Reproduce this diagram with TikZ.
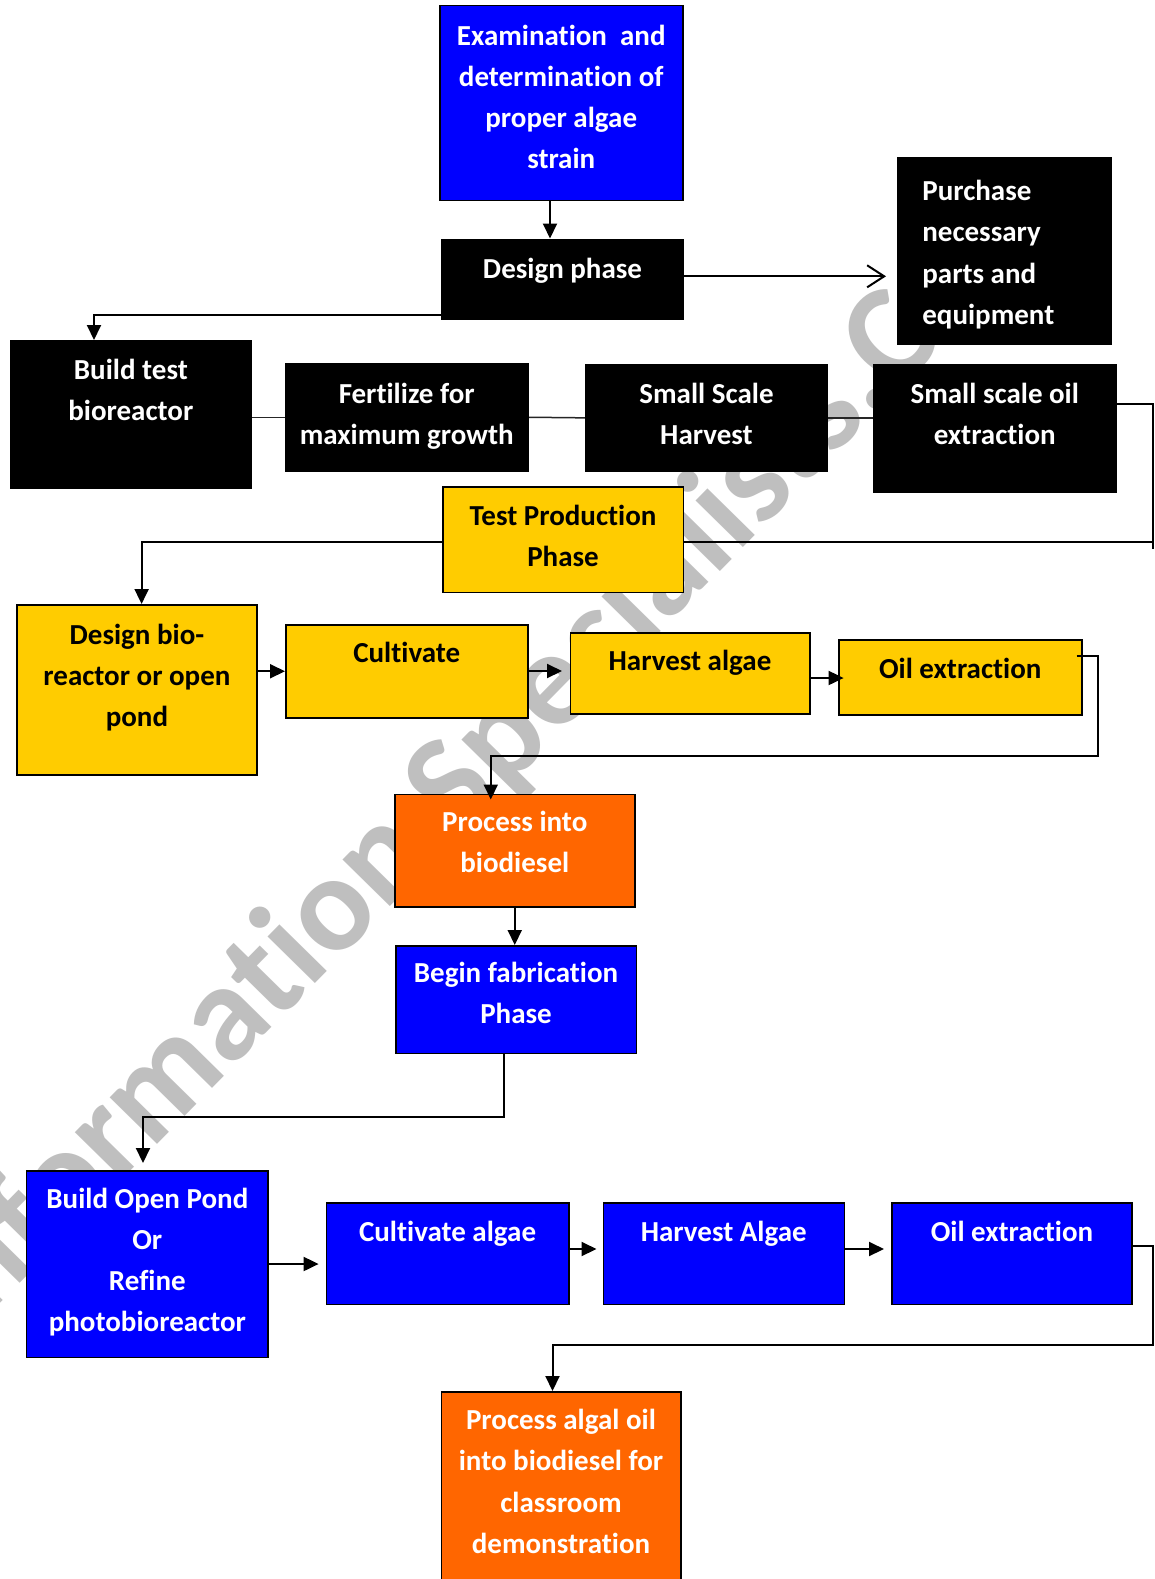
\documentclass[tikz,border=0pt]{standalone}
\usepackage{fontspec}
\setmainfont{Carlito}[Ligatures=NoCommon]
\usetikzlibrary{arrows.meta,calc}
\definecolor{myblue}{RGB}{0,0,255}
\definecolor{myyellow}{RGB}{255,204,0}
\definecolor{myorange}{RGB}{255,102,0}
\definecolor{wmgray}{RGB}{191,191,191}
\pgfdeclarelayer{bg}
\pgfsetlayers{bg,main}
\newcommand{\bt}[4]{\parbox[c][#2pt][t]{#1pt}{\centering\rule{0pt}{#3pt}#4\par}}
\newcommand{\btl}[5]{\parbox[c][#2pt][t]{#1pt}{\raggedright\leftskip=#4pt\relax\rule{0pt}{#3pt}#5\par}}
\begin{document}
\begin{tikzpicture}[x=1pt,y=-1pt,
  box/.style={draw=black,line width=1.5pt,inner sep=0pt,anchor=north west,font=\bfseries\fontsize{29}{41.2}\selectfont},
  blackbox/.style={box,fill=black,text=white},
  bluebox/.style={box,fill=myblue,text=white},
  yellowbox/.style={box,fill=myyellow,text=black},
  orangebox/.style={box,fill=myorange,text=white},
  arr/.style={line width=2pt,-{Triangle[length=15pt,width=14pt]}},
  openarr/.style={line width=2pt,-{Straight Barb[length=17pt,width=22pt]}},
  link/.style={line width=1.5pt,black!85},
  wline/.style={line width=2pt},
  wm/.style={text=wmgray,inner sep=0pt,font=\bfseries\fontsize{137}{137}\selectfont}]
\useasboundingbox (0,0) rectangle (1155,1579);

% boxes
\node[bluebox] (exam) at (439,5) {\bt{243}{194.5}{39.4}{Examination~ and\\determination of\\proper algae\\strain}};
\node[blackbox] (design) at (441,238.5) {\bt{241.5}{80.3}{39.5}{Design phase}};
\node[blackbox] (purchase) at (897,157) {\btl{213.5}{186}{43}{24.6}{Purchase\\necessary\\parts and\\equipment}};
\node[blackbox] (build) at (9.6,340) {\bt{241}{147}{39}{Build test\\bioreactor}};
\node[blackbox] (fert) at (285,363) {\bt{242}{107}{39.5}{Fertilize for\\maximum growth}};
\node[blackbox] (ssh) at (585,363.6) {\bt{241.5}{107}{39.4}{Small Scale\\Harvest}};
\node[blackbox] (sso) at (873,363.6) {\bt{242}{127.4}{39.4}{Small scale oil\\extraction}};
\node[yellowbox] (testp) at (442,486) {\bt{240.5}{105.5}{38.3}{Test Production\\Phase}};
\node[yellowbox] (dbio) at (16,604) {\bt{240.4}{170}{39.5}{Design bio-\\reactor or open\\pond}};
\node[yellowbox] (cult) at (285,624) {\bt{242}{93}{37.5}{Cultivate}};
\node[yellowbox] (harv) at (569.5,632) {\bt{239.5}{81}{38}{Harvest algae}};
\node[yellowbox] (oil) at (838,639) {\bt{243}{75}{38.3}{Oil extraction}};
\node[orangebox] (proc) at (394,793.5) {\bt{240}{112.5}{37.5}{Process into\\biodiesel}};
\node[bluebox] (begin) at (395,945) {\bt{240.5}{107.5}{37}{Begin fabrication\\Phase}};
\node[bluebox] (bop) at (25.8,1170) {\bt{241.6}{186.5}{37.6}{Build Open Pond\\Or\\Refine\\photobioreactor}};
\node[bluebox] (culta) at (325.6,1202) {\bt{242.4}{101.5}{39}{Cultivate algae}};
\node[bluebox] (harva) at (602.5,1202) {\bt{241}{101.5}{39}{Harvest Algae}};
\node[bluebox] (oilb) at (891,1202) {\bt{240.4}{101.5}{39}{Oil extraction}};
\node[orangebox] (procalg) at (440.5,1391) {\bt{239.5}{220}{38}{Process algal oil\\into biodiesel for\\classroom\\demonstration}};

% helper coordinates
\coordinate (a1) at (550,0);
\coordinate (b1) at (886,276.3);
\coordinate (c1) at (94,315);
\coordinate (e1) at (1153,404);
\coordinate (e0) at (1153,549);
\coordinate (e2) at (1153,542);
\coordinate (e3) at (141.6,542);
\coordinate (g1) at (562,671);
\coordinate (h1) at (843.6,678);
\coordinate (i0) at ($(oil.east)+(-6,-21.5)$);
\coordinate (i1) at (1098,756);
\coordinate (i2) at ($(proc.north)+(-24,6)$);
\coordinate (k1) at (143,1117);
\coordinate (m1) at (0,1249);
\coordinate (o1) at (1153,1246.4);
\coordinate (o2) at (552.5,1345);

\begin{pgfonlayer}{bg}
\fill[white] (0,0) rectangle (1155,1579);
\node[wm,rotate=45.5,anchor=base west] (wmark) at (-40,1345) {Information Specialists.Com};
\draw[wline] (sso.east |- e1) -| (e0);
\draw[arr] (e2) -- (e3) -- (dbio.north -| e3);
\draw[link] (build.east |- fert.west) -- (fert.west);
\draw[link] (fert.east) -- (ssh.west);
\draw[link] (ssh.east) -- (ssh.east -| sso.west);
\end{pgfonlayer}

% connectors
\draw[arr] (exam.south -| a1) -- (design.north -| a1);
\draw[openarr] (design.east |- b1) -- (b1);
\draw[arr] (design.west |- c1) -| (build.north -| c1);
\draw[arr] (dbio.east |- cult.west) -- (cult.west);
\draw[arr] (cult.east |- g1) -- (g1);
\draw[arr] (harv.east |- h1) -- (h1);
\draw[arr] (i0) -| (i1) -| (i2);
\draw[arr] (proc.south) -- (proc.south |- begin.north);
\draw[arr] ($(begin.south)+(-12,0)$) |- (k1) -- ($(bop.north -| k1)+(0,-7)$);
\draw[arr] (bop.east) -- ($(bop.east -| culta.west)+(-7,0)$);
\draw[arr] (culta.east |- m1) -- ($(harva.west |- m1)+(-6,0)$);
\draw[arr] (harva.east |- m1) -- ($(oilb.west |- m1)+(-7,0)$);
\draw[arr] (oilb.east |- o1) -- (o1) |- (o2) -- (procalg.north -| o2);
\end{tikzpicture}
\end{document}
